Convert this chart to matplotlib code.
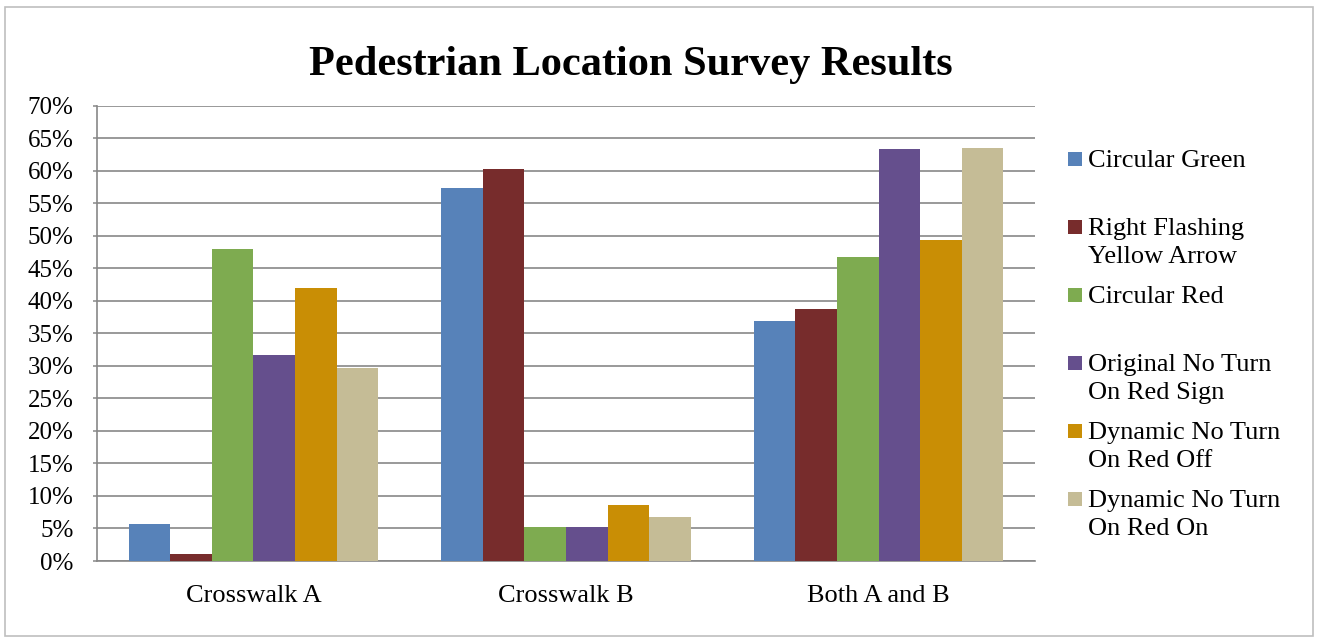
import matplotlib
matplotlib.use('Agg')
import matplotlib.pyplot as plt
import numpy as np
from matplotlib.patches import Rectangle

plt.rcParams['font.family'] = ['Liberation Serif', 'DejaVu Serif']

# survey shares per location (fraction of pedestrians)
locations = ['Crosswalk A', 'Crosswalk B', 'Both A and B']
series = ['Circular Green', 'Right Flashing\nYellow Arrow', 'Circular Red',
          'Original No Turn\nOn Red Sign', 'Dynamic No Turn\nOn Red Off',
          'Dynamic No Turn\nOn Red On']
circular_green = [0.057, 0.573, 0.369]
right_fya = [0.010, 0.603, 0.387]
circular_red = [0.480, 0.052, 0.467]
original_ntor = [0.316, 0.052, 0.633]
dynamic_off = [0.420, 0.086, 0.493]
dynamic_on = [0.297, 0.068, 0.635]
colors = ['#5782B9', '#772C2C', '#7EAB50', '#654F8D', '#C98E05', '#C5BC96']

values = [circular_green, right_fya, circular_red, original_ntor, dynamic_off, dynamic_on]

W, H = 1321, 638
fig = plt.figure(figsize=(W / 100, H / 100), dpi=100)

# outer chart frame
fig.add_artist(Rectangle((5 / W, 1 - 636 / H), 1308 / W, 629 / H, transform=fig.transFigure,
                         facecolor='none', edgecolor='#BFBFBF', linewidth=1.2))

ax = fig.add_axes([97 / W, 1 - 561 / H, (1035 - 97) / W, (561 - 105.7) / H])

x = np.arange(len(locations))
bw = 0.133
for i, (vals, c) in enumerate(zip(values, colors)):
    ax.bar(x + (i - 2.5) * bw, vals, bw, color=c, edgecolor='none', zorder=3)

ax.set_xlim(-0.5, 2.5)
ax.set_ylim(0, 0.70)
ticks = np.arange(0, 0.701, 0.05)
ax.set_yticks(ticks)
ax.set_yticklabels(['%d%%' % round(t * 100) for t in ticks], fontsize=18)
ax.set_xticks(x)
ax.set_xticklabels(locations, fontsize=19)
ax.tick_params(axis='x', length=0, pad=17)
ax.tick_params(axis='y', length=3, width=1.1, color='#878787', pad=14)
ax.grid(axis='y', color='#878787', linewidth=1.2, zorder=0)
for s in ['top', 'right']:
    ax.spines[s].set_visible(False)
for s in ['left', 'bottom']:
    ax.spines[s].set_color('#878787')
    ax.spines[s].set_linewidth(1.2)

fig.text(631 / W, 1 - 65 / H, 'Pedestrian Location Survey Results', ha='center', va='center',
         fontsize=30.5, fontweight='bold')

# legend, one entry every 68 px
for i, (name, c) in enumerate(zip(series, colors)):
    yc = 159 + 68 * i
    fig.add_artist(Rectangle((1068 / W, 1 - (yc + 7) / H), 14 / W, 14 / H,
                             transform=fig.transFigure, facecolor=c, edgecolor='none'))
    fig.text(1088 / W, 1 - (yc - 9) / H, name, ha='left', va='top', fontsize=19,
             linespacing=1.38)

fig.savefig('out.png', dpi=100)
